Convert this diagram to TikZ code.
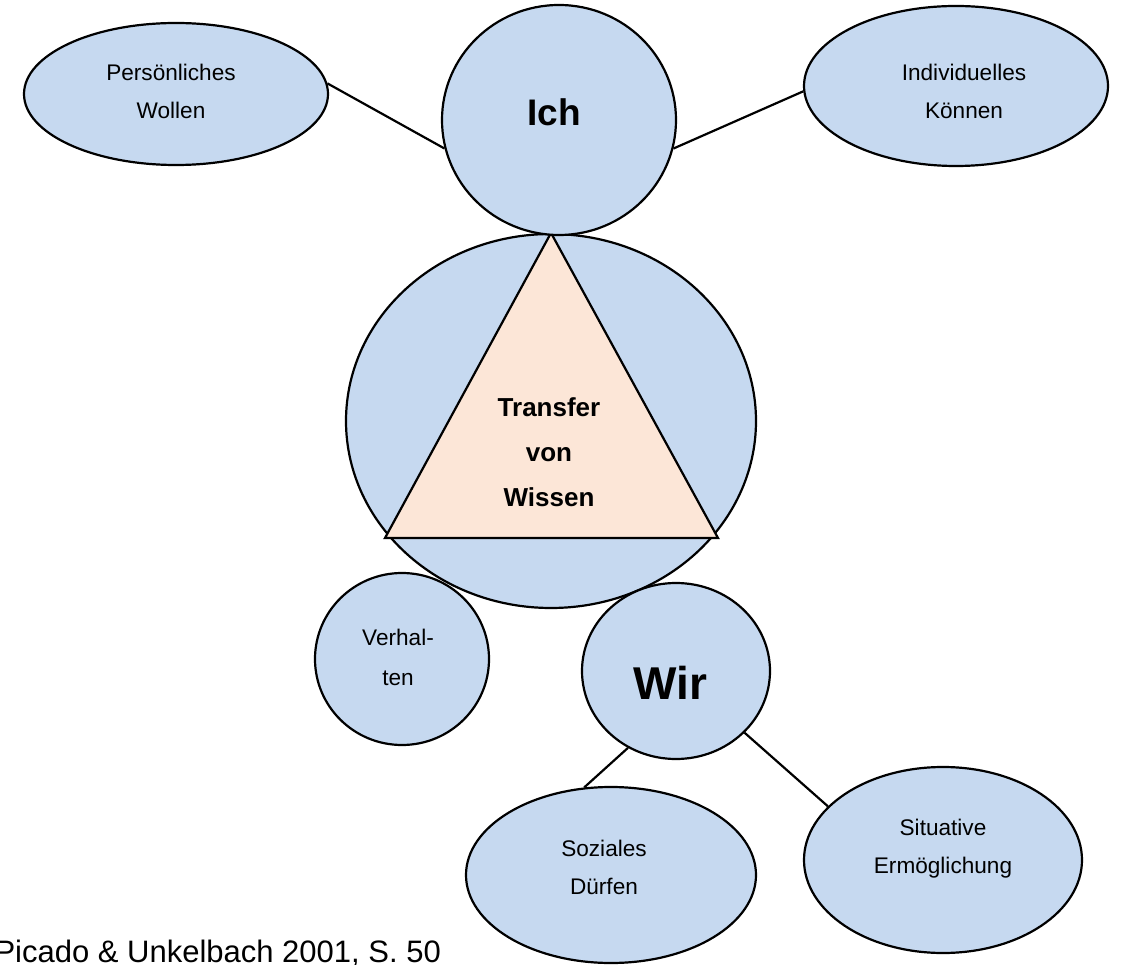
\documentclass[tikz,border=0pt]{standalone}
\usepackage{fontspec}
\setmainfont{Liberation Sans}
\usetikzlibrary{shapes.geometric}
\definecolor{kreisblau}{HTML}{C6D9F0}
\definecolor{dreieckrosa}{HTML}{FCE6D7}

\begin{document}
\begin{tikzpicture}[x=1pt,y=-1pt,
    blase/.style={ellipse,draw,line width=2.2pt,fill=kreisblau,inner sep=0pt},
    klein/.style={align=center,font=\fontsize{22.6}{38}\selectfont},
    linie/.style={line width=2.2pt}]
    \useasboundingbox (0,0) rectangle (1125,965);
    % Koerper mit Dreieck
    \node[blase,minimum width=410pt,minimum height=374pt] (koerper) at (551,421) {};
    \coordinate (links) at (385,538);
    \coordinate (rechts) at (718,538);
    \draw[linie,fill=dreieckrosa] (koerper.north) -- (links) -- (rechts) -- cycle;
    \node[align=center,font=\bfseries\fontsize{26}{45}\selectfont] (transfer) at (549,452) {Transfer\\von\\Wissen};
    % Kopf
    \node[blase,minimum width=234pt,minimum height=230pt] (ich) at (559,120) {};
    \node[font=\bfseries\fontsize{37}{44}\selectfont] at (554,112) {Ich};
    \node[blase,minimum width=304pt,minimum height=142pt] (wollen) at (176,94) {};
    \node[klein] at (171,91) {Persönliches\\Wollen};
    \node[blase,minimum width=304pt,minimum height=160pt] (koennen) at (956,86) {};
    \node[klein] at (964,91) {Individuelles\\Können};
    % Beine
    \node[blase,minimum width=174pt,minimum height=172pt] (verhalten) at (402,659) {};
    \node[klein,font=\fontsize{22.6}{40}\selectfont] at (398,657) {Verhal-\\ten};
    \node[blase,minimum width=188pt,minimum height=176pt] (wir) at (676,671) {};
    \node[font=\bfseries\fontsize{46}{54}\selectfont] at (670,683) {Wir};
    \node[blase,minimum width=290pt,minimum height=176pt] (soziales) at (611,875) {};
    \node[klein] at (604,867) {Soziales\\Dürfen};
    \node[blase,minimum width=278pt,minimum height=186pt] (situativ) at (943,860) {};
    \node[klein] at (943,849) {Situative\\Ermöglichung};
    % Verbindungen
    \draw[linie] (wollen.4) -- (ich.194);
    \draw[linie] (koennen.182) -- (ich.-14);
    \draw[linie] (wir.238) -- (soziales.107);
    \draw[linie] (wir.-42) -- (situativ.155);
    \node[anchor=base west,font=\fontsize{31}{37}\selectfont] (quelle) at (-9,962) {Picado \& Unkelbach 2001, S. 50};
\end{tikzpicture}
\end{document}
